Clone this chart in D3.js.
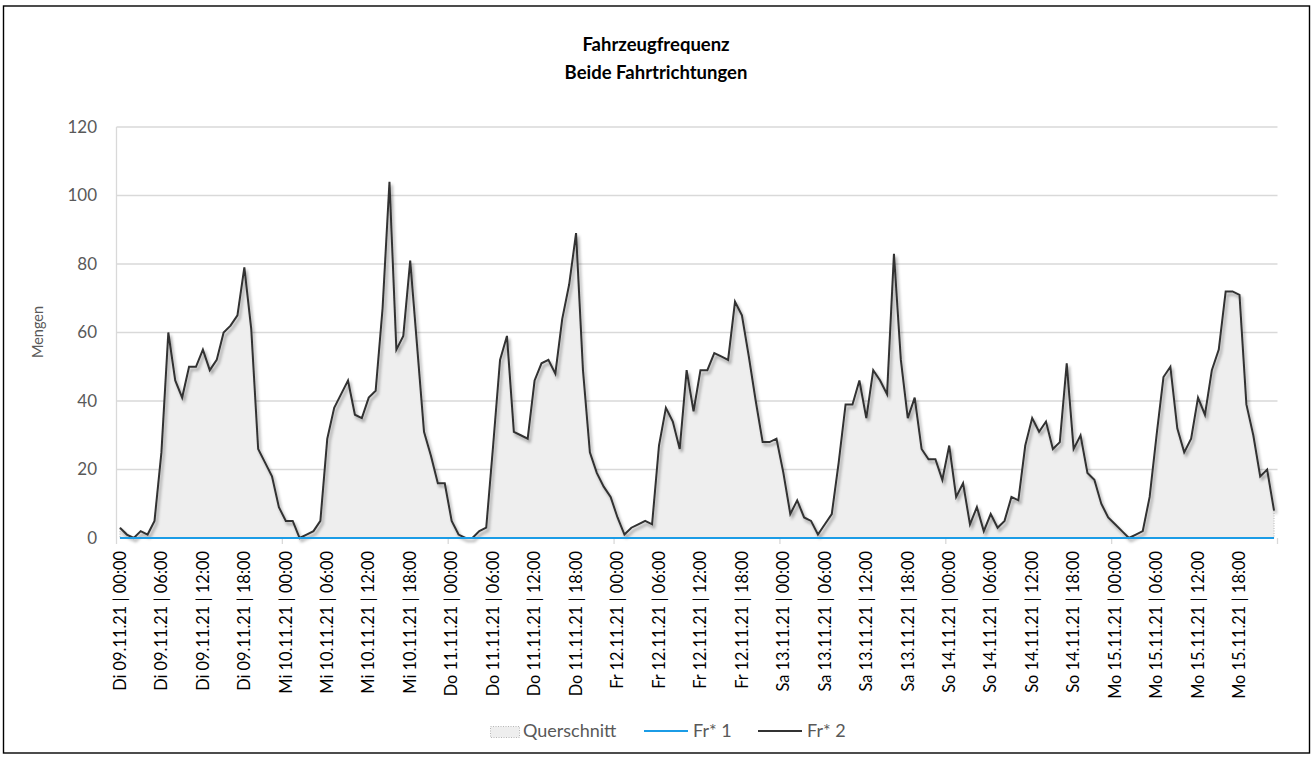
<!DOCTYPE html>
<html>
<head>
<meta charset="utf-8">
<script src="https://cdn.jsdelivr.net/npm/d3@7"></script>
<style>
  html, body { margin: 0; padding: 0; background: #fff; }
  svg { display: block; font-family: Lato, "Open Sans", sans-serif; }
</style>
</head>
<body>
<svg id="chart" width="1312" height="757"></svg>
<script>
// Hourly vehicle counts, Tue 09.11.21 00:00 – Mon 15.11.21 23:00
const days = ["Di 09.11.21", "Mi 10.11.21", "Do 11.11.21", "Fr 12.11.21", "Sa 13.11.21", "So 14.11.21", "Mo 15.11.21"];
const hours = ["00:00","01:00","02:00","03:00","04:00","05:00","06:00","07:00","08:00","09:00","10:00","11:00",
               "12:00","13:00","14:00","15:00","16:00","17:00","18:00","19:00","20:00","21:00","22:00","23:00"];
const categories = days.flatMap(d => hours.map(h => `${d} | ${h}`));

const yTicks = [0, 20, 40, 60, 80, 100, 120];

// Direction 2
const fr2 = [
  3, 1, 0, 2, 1, 5, 25, 60, 46, 41, 50, 50, 55, 49, 52, 60, 62, 65, 79, 61, 26, 22, 18, 9,
  5, 5, 0, 1, 2, 5, 29, 38, 42, 46, 36, 35, 41, 43, 67, 104, 55, 59, 81, 56, 31, 24, 16, 16,
  5, 1, 0, 0, 2, 3, 27, 52, 59, 31, 30, 29, 46, 51, 52, 48, 64, 74, 89, 49, 25, 19, 15, 12,
  6, 1, 3, 4, 5, 4, 27, 38, 34, 26, 49, 37, 49, 49, 54, 53, 52, 69, 65, 53, 40, 28, 28, 29,
  19, 7, 11, 6, 5, 1, 4, 7, 22, 39, 39, 46, 35, 49, 46, 42, 83, 52, 35, 41, 26, 23, 23, 17,
  27, 12, 16, 4, 9, 2, 7, 3, 5, 12, 11, 27, 35, 31, 34, 26, 28, 51, 26, 30, 19, 17, 10, 6,
  4, 2, 0, 1, 2, 12, 30, 47, 50, 32, 25, 29, 41, 36, 49, 55, 72, 72, 71, 39, 30, 18, 20, 8
];

// Direction 1
const fr1 = [
  0,0,0,0,0,0,0,0,0,0,0,0,0,0,0,0,0,0,0,0,0,0,0,0,
  0,0,0,0,0,0,0,0,0,0,0,0,0,0,0,0,0,0,0,0,0,0,0,0,
  0,0,0,0,0,0,0,0,0,0,0,0,0,0,0,0,0,0,0,0,0,0,0,0,
  0,0,0,0,0,0,0,0,0,0,0,0,0,0,0,0,0,0,0,0,0,0,0,0,
  0,0,0,0,0,0,0,0,0,0,0,0,0,0,0,0,0,0,0,0,0,0,0,0,
  0,0,0,0,0,0,0,0,0,0,0,0,0,0,0,0,0,0,0,0,0,0,0,0,
  0,0,0,0,0,0,0,0,0,0,0,0,0,0,0,0,0,0,0,0,0,0,0,0
];

// Cross-section (both directions)
const querschnitt = [
  3, 1, 0, 2, 1, 5, 25, 60, 46, 41, 50, 50, 55, 49, 52, 60, 62, 65, 79, 61, 26, 22, 18, 9,
  5, 5, 0, 1, 2, 5, 29, 38, 42, 46, 36, 35, 41, 43, 67, 104, 55, 59, 81, 56, 31, 24, 16, 16,
  5, 1, 0, 0, 2, 3, 27, 52, 59, 31, 30, 29, 46, 51, 52, 48, 64, 74, 89, 49, 25, 19, 15, 12,
  6, 1, 3, 4, 5, 4, 27, 38, 34, 26, 49, 37, 49, 49, 54, 53, 52, 69, 65, 53, 40, 28, 28, 29,
  19, 7, 11, 6, 5, 1, 4, 7, 22, 39, 39, 46, 35, 49, 46, 42, 83, 52, 35, 41, 26, 23, 23, 17,
  27, 12, 16, 4, 9, 2, 7, 3, 5, 12, 11, 27, 35, 31, 34, 26, 28, 51, 26, 30, 19, 17, 10, 6,
  4, 2, 0, 1, 2, 12, 30, 47, 50, 32, 25, 29, 41, 36, 49, 55, 72, 72, 71, 39, 30, 18, 20, 8
];

const legendItems = ["Querschnitt", "Fr* 1", "Fr* 2"];

const svg = d3.select("#chart");
const plot = { left: 116.5, right: 1277.5, top: 127, bottom: 538 };
const textGray = "#595959";
const lineDark = "#333333";
const lineBlue = "#1b9ce6";

const defs = svg.append("defs");
const shadow = defs.append("filter").attr("id", "shadow")
  .attr("x", "-20%").attr("y", "-20%").attr("width", "140%").attr("height", "140%");
shadow.append("feDropShadow").attr("dx", 2).attr("dy", 3).attr("stdDeviation", 1.8)
  .attr("flood-color", "#000").attr("flood-opacity", 0.35);
const vShadow = defs.append("filter").attr("id", "vshadow")
  .attr("x", "-400%").attr("y", "-5%").attr("width", "900%").attr("height", "110%");
vShadow.append("feDropShadow").attr("dx", 3).attr("dy", 2).attr("stdDeviation", 2)
  .attr("flood-color", "#000").attr("flood-opacity", 0.28);

// Outer frame
svg.append("rect").attr("x", 3.5).attr("y", 6).attr("width", 1306).attr("height", 747)
  .attr("fill", "#fff").attr("stroke", "#000").attr("stroke-width", 1.4);

// Title
const title = svg.append("text").attr("text-anchor", "middle")
  .attr("font-weight", "bold").attr("font-size", 18.5).attr("fill", "#000");
title.append("tspan").attr("x", 656).attr("y", 51).text("Fahrzeugfrequenz");
title.append("tspan").attr("x", 656).attr("y", 79).text("Beide Fahrtrichtungen");

const x = d3.scaleBand().domain(d3.range(categories.length)).range([plot.left, plot.right]).padding(0);
const bw = x.bandwidth();
const cx = i => x(i) + bw / 2;
const y = d3.scaleLinear().domain([0, 120]).range([plot.bottom, plot.top]);

// Horizontal gridlines
svg.append("g").selectAll("line").data(yTicks.filter(t => t > 0)).join("line")
  .attr("x1", plot.left).attr("x2", plot.right)
  .attr("y1", d => y(d)).attr("y2", d => y(d))
  .attr("stroke", "#d9d9d9").attr("stroke-width", 1.3);

// Plot frame sides
svg.append("line").attr("x1", plot.left).attr("x2", plot.left).attr("y1", plot.top).attr("y2", plot.bottom)
  .attr("stroke", "#d9d9d9").attr("stroke-width", 1.3);
svg.append("line").attr("x1", plot.right).attr("x2", plot.right).attr("y1", plot.top).attr("y2", plot.bottom + 5)
  .attr("stroke", "#cfcfcf").attr("stroke-width", 1.3).attr("filter", "url(#vshadow)");

// Y axis labels
const yAxis = d3.axisLeft(y).tickValues(yTicks).tickSize(0).tickPadding(0);
const gy = svg.append("g").attr("transform", `translate(97,0)`).call(yAxis);
gy.select(".domain").remove();
gy.selectAll("text").attr("font-family", "Lato, sans-serif").attr("font-size", 17).attr("fill", textGray);

// Y axis title
svg.append("text").attr("transform", "translate(43,332) rotate(-90)")
  .attr("text-anchor", "middle").attr("font-size", 14.5).attr("fill", textGray).text("Mengen");

// Day boundary ticks on the category axis
const dayStarts = d3.range(0, categories.length + 1, hours.length);
svg.append("g").selectAll("line").data(dayStarts).join("line")
  .attr("x1", d => d < categories.length ? x(d) : plot.right)
  .attr("x2", d => d < categories.length ? x(d) : plot.right)
  .attr("y1", plot.bottom).attr("y2", plot.bottom + 6)
  .attr("stroke", "#d9d9d9").attr("stroke-width", 1.3);

// Cross-section area
const area = d3.area().x((d, i) => cx(i)).y0(y(0)).y1(d => y(d));
svg.append("path").datum(querschnitt).attr("d", area)
  .attr("fill", "#eeeeee").attr("stroke", "#a6a6a6").attr("stroke-width", 0.8)
  .attr("stroke-dasharray", "1,1.5");

// Day separators
svg.append("g").selectAll("line").data(dayStarts.slice(1, -1)).join("line")
  .attr("x1", d => x(d)).attr("x2", d => x(d))
  .attr("y1", plot.top).attr("y2", plot.bottom)
  .attr("stroke", "#6a6a6a").attr("stroke-width", 1.7).attr("filter", "url(#vshadow)");

// Direction lines
const line = d3.line().x((d, i) => cx(i)).y(d => y(d));
svg.append("path").datum(fr2).attr("d", line)
  .attr("fill", "none").attr("stroke", lineDark).attr("stroke-width", 2)
  .attr("stroke-linejoin", "miter").attr("filter", "url(#shadow)");
svg.append("path").datum(fr1).attr("d", line)
  .attr("fill", "none").attr("stroke", lineBlue).attr("stroke-width", 2);

// Category labels every six hours
const labelIdx = d3.range(0, categories.length, 6);
svg.append("g").selectAll("text").data(labelIdx).join("text")
  .attr("transform", i => `translate(${cx(i)},551) rotate(-90)`)
  .attr("text-anchor", "end").attr("dy", "0.35em")
  .attr("font-size", 16.4).attr("fill", "#000")
  .text(i => categories[i]);

// Legend
const lg = svg.append("g").attr("font-size", 18).attr("fill", textGray);
lg.append("rect").attr("x", 490.5).attr("y", 726.5).attr("width", 29).attr("height", 11)
  .attr("fill", "#eeeeee").attr("stroke", "#a6a6a6").attr("stroke-width", 0.8).attr("stroke-dasharray", "1,1.5");
lg.append("text").attr("x", 523).attr("y", 737).text(legendItems[0]);
lg.append("line").attr("x1", 644).attr("x2", 688).attr("y1", 731).attr("y2", 731)
  .attr("stroke", lineBlue).attr("stroke-width", 2);
lg.append("text").attr("x", 693).attr("y", 737).text(legendItems[1]);
lg.append("line").attr("x1", 758).attr("x2", 802).attr("y1", 731).attr("y2", 731)
  .attr("stroke", lineDark).attr("stroke-width", 1.8);
lg.append("text").attr("x", 807).attr("y", 737).text(legendItems[2]);
</script>
</body>
</html>
